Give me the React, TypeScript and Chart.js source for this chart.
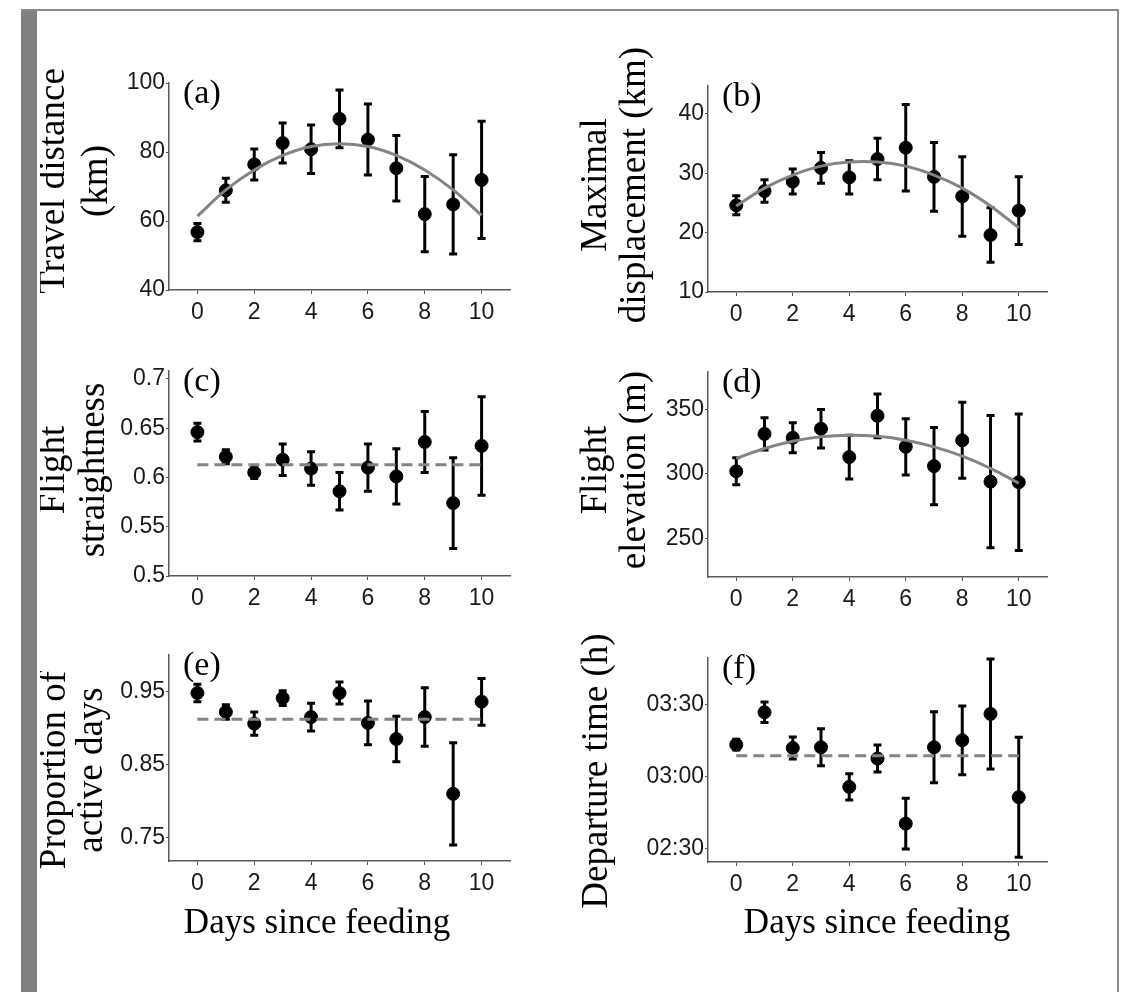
import React, { useEffect, useRef } from 'react';
import { Chart, registerables } from 'chart.js';

Chart.register(...registerables);

// ---------------- data ----------------
const DAYS = [0, 1, 2, 3, 4, 5, 6, 7, 8, 9, 10];
const X_TICKS = [0, 2, 4, 6, 8, 10];

// (a) Travel distance (km)
const TRAVEL_MEAN = [56.8, 68.9, 76.4, 82.6, 80.8, 89.6, 83.6, 75.3, 62.0, 64.8, 71.9];
const TRAVEL_ERR = [2.5, 3.5, 4.5, 5.8, 7.0, 8.4, 10.3, 9.5, 10.9, 14.4, 17.0];
const TRAVEL_FIT = [61.4, 69.0, 74.8, 79.0, 81.6, 82.4, 81.6, 79.0, 74.8, 69.0, 61.6];
const TRAVEL_TICKS = [40, 60, 80, 100];

// (b) Maximal displacement (km)
const DISP_MEAN = [24.6, 27.0, 28.6, 30.9, 29.3, 32.4, 34.3, 29.4, 26.1, 19.6, 23.7];
const DISP_ERR = [1.6, 1.9, 2.1, 2.6, 2.8, 3.5, 7.3, 5.8, 6.7, 4.6, 5.7];
const DISP_FIT = [24.5, 27.5, 29.7, 31.2, 31.9, 31.9, 31.2, 29.7, 27.5, 24.5, 20.8];
const DISP_TICKS = [10, 20, 30, 40];

// (c) Flight straightness
const STRAIGHT_MEAN = [0.646, 0.621, 0.605, 0.618, 0.609, 0.586, 0.61, 0.601, 0.636, 0.574, 0.632];
const STRAIGHT_ERR = [0.009, 0.007, 0.006, 0.016, 0.017, 0.019, 0.024, 0.028, 0.031, 0.046, 0.05];
const STRAIGHT_AVG = 0.613;
const STRAIGHT_TICKS = [0.5, 0.55, 0.6, 0.65, 0.7];

// (d) Flight elevation (m)
const ELEV_MEAN = [302, 331, 328, 335, 313, 345, 321, 306, 326, 294, 293.5];
const ELEV_ERR = [10.5, 12.5, 11.7, 15, 17, 17, 21.8, 29.9, 29.5, 51.3, 53];
const ELEV_FIT = [312, 319.7, 325.3, 328.7, 330, 329.1, 326.1, 320.9, 313.7, 304.3, 292.7];
const ELEV_TICKS = [250, 300, 350];

// (e) Proportion of active days
const ACTIVE_MEAN = [0.948, 0.922, 0.906, 0.941, 0.915, 0.948, 0.907, 0.885, 0.915, 0.81, 0.936];
const ACTIVE_ERR = [0.012, 0.01, 0.016, 0.01, 0.019, 0.015, 0.03, 0.031, 0.04, 0.07, 0.032];
const ACTIVE_AVG = 0.912;
const ACTIVE_TICKS = [0.75, 0.85, 0.95];

// (f) Departure time (minutes after midnight)
const DEPART_MEAN = [193.2, 206.7, 191.8, 192.1, 175.6, 187.4, 160.3, 192.1, 195.0, 206.0, 171.3];
const DEPART_ERR = [2.2, 4.3, 4.6, 7.7, 5.5, 5.6, 10.6, 14.8, 14.3, 22.9, 25.0];
const DEPART_AVG = 188.6;
const DEPART_TICKS = [150, 180, 210];

// ---------------- layout ----------------
const SERIF = '"Liberation Serif", "Times New Roman", serif';
const SANS = '"Liberation Sans", Arial, sans-serif';

const fmtNum = (v: number) => String(v);
const fmtTime = (v: number) => {
  const h = Math.floor(v / 60);
  const m = Math.round(v - h * 60);
  return String(h).padStart(2, '0') + ':' + String(m).padStart(2, '0');
};

type PanelSpec = {
  label: string;
  yTitle: string[];
  titleX: number[]; // page baseline x for each line
  titleCY: number; // page centre y
  mean: number[];
  err: number[];
  fit?: number[];
  avg?: number;
  yMin: number;
  yMax: number;
  yTicks: number[];
  fmt: (v: number) => string;
  canvas: { left: number; top: number; width: number; height: number };
  plot: { left: number; top: number; right: number; bottom: number };
  xTitle?: { x: number; y: number };
};

const COL_L = { left: 40, width: 515 };
const COL_R = { left: 555, width: 555 };
const ROW1 = { top: 12, height: 323 };
const ROW2 = { top: 335, height: 280 };
const ROW3 = { top: 615, height: 370 };

const PANELS: PanelSpec[] = [
  {
    label: '(a)', yTitle: ['Travel distance', '(km)'], titleX: [64, 107], titleCY: 181,
    mean: TRAVEL_MEAN, err: TRAVEL_ERR, fit: TRAVEL_FIT,
    yMin: 40, yMax: 100, yTicks: TRAVEL_TICKS, fmt: fmtNum,
    canvas: { ...COL_L, ...ROW1 }, plot: { left: 169, top: 83, right: 510, bottom: 290 },
  },
  {
    label: '(b)', yTitle: ['Maximal', 'displacement (km)'], titleX: [606, 645], titleCY: 185,
    mean: DISP_MEAN, err: DISP_ERR, fit: DISP_FIT,
    yMin: 10, yMax: 44.7, yTicks: DISP_TICKS, fmt: fmtNum,
    canvas: { ...COL_R, ...ROW1 }, plot: { left: 708, top: 86, right: 1047, bottom: 292 },
  },
  {
    label: '(c)', yTitle: ['Flight', 'straightness'], titleX: [64, 104], titleCY: 470,
    mean: STRAIGHT_MEAN, err: STRAIGHT_ERR, avg: STRAIGHT_AVG,
    yMin: 0.5, yMax: 0.708, yTicks: STRAIGHT_TICKS, fmt: fmtNum,
    canvas: { ...COL_L, ...ROW2 }, plot: { left: 169, top: 371, right: 510, bottom: 576 },
  },
  {
    label: '(d)', yTitle: ['Flight', 'elevation (m)'], titleX: [606, 645], titleCY: 470,
    mean: ELEV_MEAN, err: ELEV_ERR, fit: ELEV_FIT,
    yMin: 220, yMax: 379, yTicks: ELEV_TICKS, fmt: fmtNum,
    canvas: { ...COL_R, ...ROW2 }, plot: { left: 708, top: 372, right: 1047, bottom: 577 },
  },
  {
    label: '(e)', yTitle: ['Proportion of', 'active days'], titleX: [65, 102], titleCY: 770,
    mean: ACTIVE_MEAN, err: ACTIVE_ERR, avg: ACTIVE_AVG,
    yMin: 0.718, yMax: 1.0, yTicks: ACTIVE_TICKS, fmt: fmtNum,
    canvas: { ...COL_L, ...ROW3 }, plot: { left: 169, top: 655, right: 510, bottom: 861 },
    xTitle: { x: 317, y: 933 },
  },
  {
    label: '(f)', yTitle: ['Departure time (h)'], titleX: [607], titleCY: 771,
    mean: DEPART_MEAN, err: DEPART_ERR, avg: DEPART_AVG,
    yMin: 144.3, yMax: 229.3, yTicks: DEPART_TICKS, fmt: fmtTime,
    canvas: { ...COL_R, ...ROW3 }, plot: { left: 708, top: 658, right: 1047, bottom: 862 },
    xTitle: { x: 877, y: 933 },
  },
];

const X_AXIS_H = 32;

function Panel({ spec }: { spec: PanelSpec }) {
  const ref = useRef<HTMLCanvasElement | null>(null);
  useEffect(() => {
    const canvas = ref.current;
    if (!canvas) return;
    const c = spec.canvas;
    const p = spec.plot;
    const yw = p.left - c.left;
    const padR = c.left + c.width - p.right;
    const padT = p.top - c.top;
    const padB = c.top + c.height - p.bottom - X_AXIS_H;

    const meanPts = DAYS.map((d, i) => ({ x: d, y: spec.mean[i] }));
    const linePts = spec.fit
      ? DAYS.map((d, i) => ({ x: d, y: spec.fit![i] }))
      : [
          { x: DAYS[0], y: spec.avg as number },
          { x: DAYS[DAYS.length - 1], y: spec.avg as number },
        ];

    const errorBars = {
      id: 'errorBars',
      beforeDatasetsDraw(chart: any) {
        const ctx = chart.ctx;
        const xs = chart.scales.x;
        const ys = chart.scales.y;
        ctx.save();
        ctx.strokeStyle = '#000';
        ctx.lineWidth = 3;
        ctx.lineCap = 'butt';
        DAYS.forEach((d, i) => {
          const px = xs.getPixelForValue(d);
          const top = ys.getPixelForValue(spec.mean[i] + spec.err[i]);
          const bot = ys.getPixelForValue(spec.mean[i] - spec.err[i]);
          ctx.beginPath();
          ctx.moveTo(px, top);
          ctx.lineTo(px, bot);
          ctx.moveTo(px - 4, top);
          ctx.lineTo(px + 4, top);
          ctx.moveTo(px - 4, bot);
          ctx.lineTo(px + 4, bot);
          ctx.stroke();
        });
        ctx.restore();
      },
    };

    const texts = {
      id: 'texts',
      afterDraw(chart: any) {
        const ctx = chart.ctx;
        const area = chart.chartArea;
        ctx.save();
        ctx.fillStyle = '#000';
        // y-axis title (rotated)
        ctx.font = `37px ${SERIF}`;
        ctx.textAlign = 'center';
        ctx.textBaseline = 'alphabetic';
        spec.yTitle.forEach((line, i) => {
          ctx.save();
          ctx.translate(spec.titleX[i] - c.left, spec.titleCY - c.top);
          ctx.rotate(-Math.PI / 2);
          ctx.fillText(line, 0, 0);
          ctx.restore();
        });
        // panel label
        ctx.font = `34px ${SERIF}`;
        ctx.textAlign = 'left';
        ctx.fillText(spec.label, area.left + 14, area.top + 20);
        // x title
        if (spec.xTitle) {
          ctx.font = `35px ${SERIF}`;
          ctx.textAlign = 'center';
          ctx.fillText('Days since feeding', spec.xTitle.x - c.left, spec.xTitle.y - c.top);
        }
        ctx.restore();
      },
    };

    const chart = new Chart(canvas, {
      type: 'scatter',
      data: {
        datasets: [
          {
            type: 'line',
            data: linePts,
            borderColor: '#848484',
            borderWidth: 3,
            borderDash: spec.fit ? [] : [11, 6],
            pointRadius: 0,
            tension: spec.fit ? 0.4 : 0,
            fill: false,
            order: 0,
          } as any,
          {
            type: 'scatter',
            data: meanPts,
            backgroundColor: '#000',
            borderColor: '#000',
            pointRadius: 6.5,
            pointHoverRadius: 6.5,
            order: 1,
          },
        ],
      },
      options: {
        responsive: false,
        maintainAspectRatio: false,
        animation: false,
        events: [],
        layout: { padding: { left: 0, right: padR, top: padT, bottom: padB } },
        plugins: { legend: { display: false }, tooltip: { enabled: false }, title: { display: false } },
        scales: {
          x: {
            type: 'linear',
            min: -1,
            max: 11,
            afterFit: (s: any) => { s.height = X_AXIS_H; },
            afterBuildTicks: (s: any) => { s.ticks = X_TICKS.map((v) => ({ value: v })); },
            ticks: {
              callback: (v: any) => String(v),
              font: { family: SANS, size: 23 },
              color: '#1a1a1a',
              padding: 5,
              maxRotation: 0,
              autoSkip: false,
            },
            grid: { display: true, drawOnChartArea: false, drawTicks: true, tickLength: 4, tickColor: '#555' },
            border: { display: true, color: '#5a5a5a', width: 1.5 },
          },
          y: {
            type: 'linear',
            min: spec.yMin,
            max: spec.yMax,
            afterFit: (s: any) => { s.width = yw; },
            afterBuildTicks: (s: any) => { s.ticks = spec.yTicks.map((v) => ({ value: v })); },
            ticks: {
              callback: (v: any) => spec.fmt(Number(v)),
              font: { family: SANS, size: 23 },
              color: '#1a1a1a',
              padding: 1,
              autoSkip: false,
            },
            grid: { display: true, drawOnChartArea: false, drawTicks: true, tickLength: 3, tickColor: '#555' },
            border: { display: true, color: '#5a5a5a', width: 1.5 },
          },
        },
      },
      plugins: [errorBars, texts],
    } as any);
    return () => chart.destroy();
  }, [spec]);

  const c = spec.canvas;
  return (
    <canvas
      ref={ref}
      width={c.width}
      height={c.height}
      style={{ position: 'absolute', left: c.left, top: c.top, width: c.width, height: c.height }}
    />
  );
}

export default function App() {
  useEffect(() => {
    document.body.style.margin = '0';
  }, []);
  return (
    <div style={{ position: 'relative', width: 1124, height: 992, background: '#fff', overflow: 'hidden' }}>
      {/* frame */}
      <div style={{ position: 'absolute', left: 21, top: 9, width: 16, height: 983, background: '#808080' }} />
      <div style={{ position: 'absolute', left: 21, top: 9, width: 1098, height: 2, background: '#8a8a8a' }} />
      <div style={{ position: 'absolute', left: 1117, top: 9, width: 2, height: 983, background: '#8a8a8a' }} />
      {PANELS.map((p) => (
        <Panel key={p.label} spec={p} />
      ))}
    </div>
  );
}
